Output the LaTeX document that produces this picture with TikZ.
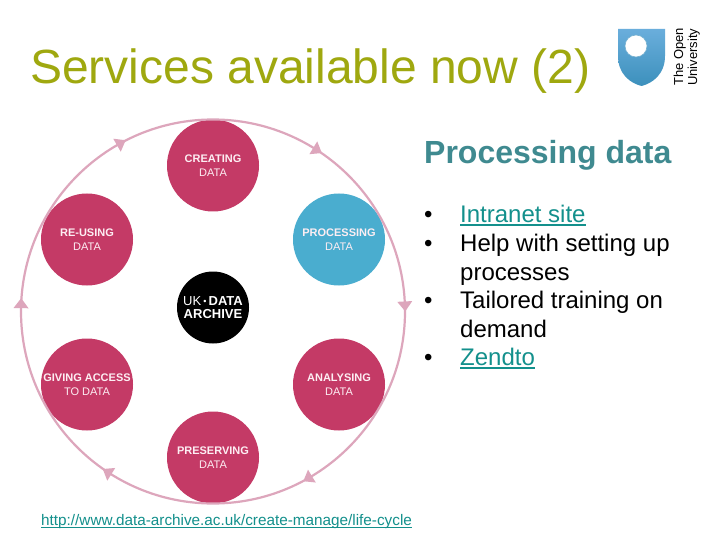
\documentclass[tikz,border=0pt]{standalone}
\usepackage{fontspec}
\setmainfont{Liberation Sans}
\usetikzlibrary{calc}
\definecolor{ttl}{HTML}{9FA80F}
\definecolor{head}{HTML}{3F8A90}
\definecolor{ring}{HTML}{DDA6BC}
\definecolor{rose}{HTML}{C43A66}
\definecolor{sky}{HTML}{4AADCF}
\definecolor{lnk}{HTML}{13908C}
\definecolor{lab}{HTML}{FDEEF3}
\definecolor{shieldtop}{HTML}{6AAEDC}
\definecolor{shieldmid}{HTML}{B5D8EA}
\definecolor{shieldlow}{HTML}{3C90BC}
\newcommand{\linkline}[2]{\setbox0\hbox{#2}\rlap{\rule[-2.8pt]{\wd0}{#1}}\box0}
\tikzset{x=1pt,y=-1pt,
  stage/.style={circle,minimum size=92pt,inner sep=0pt,fill=rose,text=lab,align=center,font=\fontsize{11}{13.5}\selectfont},
  body/.style={anchor=base west,font=\fontsize{24}{24}\selectfont,inner sep=0pt},
  vert/.style={anchor=base west,rotate=90,inner sep=0pt,font=\fontsize{13}{13}\selectfont}}
\begin{document}
\begin{tikzpicture}
\useasboundingbox (0,0) rectangle (720,540);
\fill[white] (0,0) rectangle (720,540);
\node[anchor=base west,inner sep=0pt,text=ttl,font=\fontsize{48}{48}\selectfont] (title) at (30,84) {Services available now (2)};
\coordinate (c) at (213,311.5);
\node[stage] (create) at (213,165.5) {\textbf{CREATING}\\DATA};
\node[stage,fill=sky] (proc) at (339,239.5) {\textbf{PROCESSING}\\DATA};
\node[stage] (anal) at (339,384.5) {\textbf{ANALYSING}\\DATA};
\node[stage] (pres) at (213,457.5) {\textbf{PRESERVING}\\DATA};
\node[stage] (give) at (87,384.5) {\textbf{GIVING ACCESS}\\TO DATA};
\node[stage] (reuse) at (87,239.5) {\textbf{RE-USING}\\DATA};
\draw[ring,line width=2.2pt] (c) circle[radius=192];
\foreach \a in {-58.5,-3,59,122,181,240}{
  \fill[ring] ($(c)+(\a:199.5)$) -- ($(c)+(\a:184.5)$) -- ($(c)+(\a:192)+(\a+90:10)$) -- cycle;
}
\node[circle,fill=black,minimum size=72pt,inner sep=0pt,text=white,align=center,font=\fontsize{13}{13.5}\selectfont] (ukda) at (213,307.5) {UK\,{\fontsize{9}{9}\selectfont\raisebox{1pt}{•}}\,\textbf{DATA}\\\textbf{ARCHIVE}};
\node[anchor=base west,inner sep=0pt,text=lnk,font=\fontsize{15.3}{16}\selectfont] (url) at (41,525) {\linkline{1pt}{http://www.data-archive.ac.uk/create-manage/life-cycle}};
\node[anchor=base west,inner sep=0pt,text=head,font=\bfseries\fontsize{32}{32}\selectfont] (ph) at (424,163.5) {Processing data};
\foreach \y/\n in {222.7/b1,251.7/b2,308.7/b3,365.7/b4}{\node[body] (\n) at (424,\y) {•};}
\node[body,text=lnk] (t1) at (460,222.7) {\linkline{1.6pt}{Intranet site}};
\node[body] (t2) at (460,251.7) {Help with setting up};
\node[body] (t3) at (460,280) {processes};
\node[body] (t4) at (460,308.7) {Tailored training on};
\node[body] (t5) at (460,337.7) {demand};
\node[body,text=lnk] (t6) at (460,365.7) {\linkline{1.6pt}{Zendto}};
% Open University logo
\shade[top color=shieldtop,middle color=shieldmid,bottom color=shieldlow]
  (618,29) -- (665,29) -- (665,56) .. controls (665,74) and (653,83) .. (641.5,86) .. controls (630,83) and (618,74) .. (618,56) -- cycle;
\filldraw[fill=white,draw=shieldlow!70!white,line width=0.6pt] (636,46) circle[radius=11];
\node[vert] (ou1) at (683,86) {The Open};
\node[vert] (ou2) at (697,86) {University};
\end{tikzpicture}
\end{document}
